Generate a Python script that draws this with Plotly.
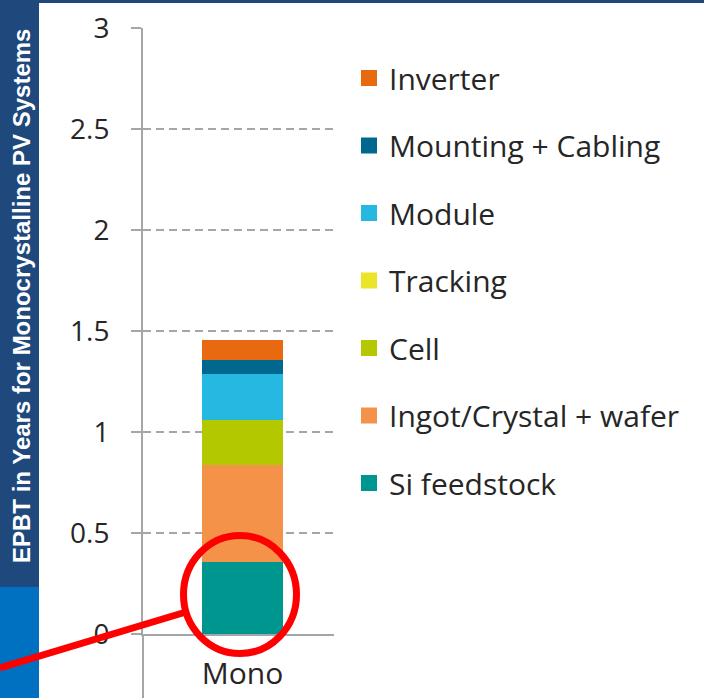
import plotly.graph_objects as go

# ---- data ----
categories = ["Mono"]
series_names = ["Si feedstock", "Ingot/Crystal + wafer", "Cell", "Tracking",
                "Module", "Mounting + Cabling", "Inverter"]
series_values = [0.355, 0.48, 0.225, 0.0, 0.225, 0.07, 0.10]
series_colors = ["#009690", "#F39248", "#B4C800", "#EBE52A",
                 "#25B8E0", "#00688E", "#E8690F"]
y_ticks = [0, 0.5, 1, 1.5, 2, 2.5, 3]
y_tick_labels = ["0", "0.5", "1", "1.5", "2", "2.5", "3"]
y_title = "EPBT in Years for Monocrystalline PV Systems"

W, H = 704, 698
L, R, T, B = 143, 334, 28, 634   # plot area in pixels


def px(x):
    return (x - L) / (R - L)


def py(y):
    return (B - y) / (B - T)


fig = go.Figure()
n = len(series_names)
for i, (name, val, col) in enumerate(zip(series_names, series_values, series_colors)):
    fig.add_trace(go.Bar(
        x=categories, y=[val], name=name, showlegend=False,
        marker=dict(color=col, line=dict(width=0)), legendgroup=name,
    ))
    # legend entry (square swatch) for the same series
    fig.add_trace(go.Scatter(
        x=[None], y=[None], name=name, mode="markers", legendgroup=name,
        marker=dict(symbol="square", size=16, color=col, line=dict(width=0)),
        legendrank=n - i, showlegend=True,
    ))

font_main = "Open Sans, Segoe UI, sans-serif"

fig.update_layout(
    width=W, height=H,
    margin=dict(l=L, r=W - R, t=T, b=H - B, pad=0, autoexpand=False),
    paper_bgcolor="white", plot_bgcolor="white",
    barmode="stack", bargap=0.575,
    showlegend=True,
    legend=dict(
        traceorder="grouped", tracegroupgap=25.5,
        x=px(349), xanchor="left", y=py(52), yanchor="top",
        font=dict(family=font_main, size=30, color="#262626"),
        itemwidth=30, bgcolor="rgba(0,0,0,0)", itemsizing="trace",
    ),
    xaxis=dict(
        range=[-0.521, 0.479], showline=True, linecolor="#a6a6a6", linewidth=2,
        ticks="", showgrid=False, zeroline=False, ticklabelstandoff=12,
        tickfont=dict(family=font_main, size=30, color="#262626"),
    ),
    yaxis=dict(
        range=[0, 3], tickvals=y_ticks, ticktext=y_tick_labels,
        showline=True, linecolor="#a6a6a6", linewidth=2,
        ticks="outside", ticklen=10, tickcolor="#a6a6a6", tickwidth=2,
        showgrid=True, gridcolor="#a6a6a6", gridwidth=1.5, griddash="8px,5px",
        zeroline=False, ticklabelstandoff=16,
        tickfont=dict(family=font_main, size=28, color="#262626"),
    ),
)

shapes = [
    # left title strip (dark navy) and bright blue lower block
    dict(type="rect", xref="paper", yref="paper", x0=px(0), x1=px(39), y0=py(587), y1=py(0),
         fillcolor="#1F497D", line=dict(width=0), layer="above"),
    dict(type="rect", xref="paper", yref="paper", x0=px(0), x1=px(39), y0=py(698), y1=py(587),
         fillcolor="#0070C0", line=dict(width=0), layer="above"),
    # top border
    dict(type="rect", xref="paper", yref="paper", x0=px(0), x1=px(704), y0=py(3), y1=py(0),
         fillcolor="#1F497D", line=dict(width=0), layer="above"),
    # y-axis line extension below the category axis
    dict(type="line", xref="paper", yref="paper", x0=px(143), x1=px(143), y0=py(634), y1=py(698),
         line=dict(color="#a6a6a6", width=2)),
    # red highlight circle
    dict(type="circle", xref="paper", yref="paper", x0=px(183.5), x1=px(296.5),
         y0=py(653.5), y1=py(535.5), line=dict(color="#FF0000", width=7), layer="above"),
    # red pointer line
    dict(type="line", xref="paper", yref="paper", x0=px(0), y0=py(668), x1=px(186), y1=py(612),
         line=dict(color="#FF0000", width=7), layer="above"),
]
fig.update_layout(shapes=shapes)

fig.add_annotation(
    text="<b>" + y_title + "</b>", xref="paper", yref="paper", x=px(21), y=py(296),
    textangle=-90, showarrow=False, xanchor="center", yanchor="middle",
    font=dict(family="Liberation Sans, Arial, sans-serif", size=24, color="white"),
)

fig.write_html(
    "out.html",
    config={"displayModeBar": False},
    post_script="document.body.style.margin='0';document.body.style.overflow='hidden';",
)
